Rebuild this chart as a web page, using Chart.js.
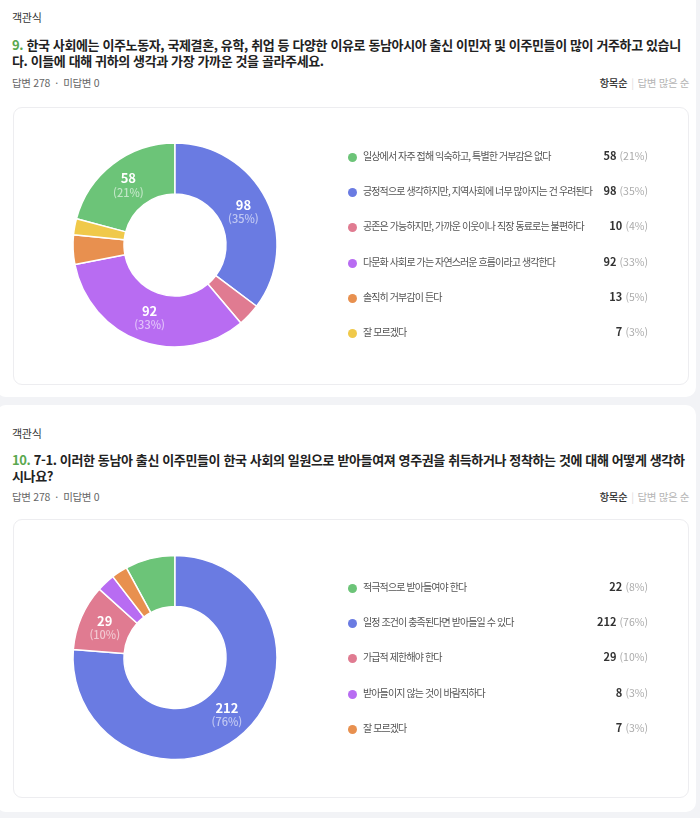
<!DOCTYPE html>
<html lang="ko">
<head>
<meta charset="utf-8">
<script src="https://cdn.jsdelivr.net/npm/chart.js@4.4.1/dist/chart.umd.min.js"></script>
<style>
  html, body { margin:0; padding:0; }
  body { width:700px; height:818px; background:#f2f3f6; position:relative; overflow:hidden;
         font-family:"Noto Sans CJK KR","Noto Sans",sans-serif; color:#333; }
  .card { position:absolute; left:-4px; width:700px; background:#fff; border-radius:10px; }
  .abs { position:absolute; white-space:nowrap; }
  .kind { font-size:11px; color:#333; letter-spacing:-0.3px; }
  .title { font-size:13px; font-weight:700; color:#222; letter-spacing:-0.38px; line-height:16px; }
  .title .num { color:#5aa84f; }
  .meta { font-size:10.5px; color:#666; letter-spacing:-0.3px; }
  .sort { font-size:10.5px; letter-spacing:-0.4px; right:11px; }
  .sort b { color:#333; font-weight:500; }
  .sort .sep { color:#ddd; margin:0 4px; }
  .sort .off { color:#b5b5b5; }
  .box { position:absolute; left:13px; width:674px; border:1px solid #ededf0; border-radius:9px; background:#fff; }
  .chartwrap { position:absolute; }
  .leg { position:absolute; left:0; width:700px; height:14px; }
  .dot { position:absolute; left:348px; top:3px; width:9px; height:9px; border-radius:50%; }
  .ltxt { position:absolute; left:363px; top:-2px; font-size:10px; color:#555; letter-spacing:-0.9px; white-space:nowrap; }
  .lval { position:absolute; right:52px; top:-3px; font-size:11px; white-space:nowrap; color:#333; }
  .lval b { font-weight:700; }
  .lval span { color:#aaa; font-size:10.5px; }
</style>
</head>
<body>
<div class="card" style="top:-12px; height:409px;"></div>
<div class="card" style="top:405px; height:407px;"></div>

<div class="abs kind" style="left:12px; top:9px;">객관식</div>
<div class="abs title" style="left:12px; top:37px;"><span class="num">9.</span> 한국 사회에는 이주노동자, 국제결혼, 유학, 취업 등 다양한 이유로 동남아시아 출신 이민자 및 이주민들이 많이 거주하고 있습니<br>다. 이들에 대해 귀하의 생각과 가장 가까운 것을 골라주세요.</div>
<div class="abs meta" style="left:12px; top:75px;">답변 278 &nbsp;·&nbsp; 미답변 0</div>
<div class="abs sort" style="top:75px;"><b>항목순</b><span class="sep">|</span><span class="off">답변 많은 순</span></div>
<div class="box" style="top:107px; height:276px;"></div>
<div class="chartwrap" style="left:13px; top:107px; width:324px; height:276px;"><canvas id="c1"></canvas></div>
<div id="leg1"></div>

<div class="abs kind" style="left:12px; top:425px;">객관식</div>
<div class="abs title" style="left:12px; top:452px;"><span class="num">10.</span> 7-1. 이러한 동남아 출신 이주민들이 한국 사회의 일원으로 받아들여져 영주권을 취득하거나 정착하는 것에 대해 어떻게 생각하<br>시나요?</div>
<div class="abs meta" style="left:12px; top:489px;">답변 278 &nbsp;·&nbsp; 미답변 0</div>
<div class="abs sort" style="top:489px;"><b>항목순</b><span class="sep">|</span><span class="off">답변 많은 순</span></div>
<div class="box" style="top:519px; height:277px;"></div>
<div class="chartwrap" style="left:13px; top:519px; width:324px; height:277px;"><canvas id="c2"></canvas></div>
<div id="leg2"></div>

<script>
// ---- Data ----
const q1Labels = ["일상에서 자주 접해 익숙하고, 특별한 거부감은 없다", "긍정적으로 생각하지만, 지역사회에 너무 많아지는 건 우려된다", "공존은 가능하지만, 가까운 이웃이나 직장 동료로는 불편하다", "다문화 사회로 가는 자연스러운 흐름이라고 생각한다", "솔직히 거부감이 든다", "잘 모르겠다"];
const q1Values = [58, 98, 10, 92, 13, 7];
const q1Pcts = [21, 35, 4, 33, 5, 3];
const q1Colors = ["#6cc478", "#6a7be2", "#e07b91", "#b86cf2", "#e8904f", "#f0c94a"];

const q2Labels = ["적극적으로 받아들여야 한다", "일정 조건이 충족된다면 받아들일 수 있다", "가급적 제한해야 한다", "받아들이지 않는 것이 바람직하다", "잘 모르겠다"];
const q2Values = [22, 212, 29, 8, 7];
const q2Pcts = [8, 76, 10, 3, 3];
const q2Colors = ["#6cc478", "#6a7be2", "#e07b91", "#b86cf2", "#e8904f"];

const labelPlugin = {
  id: 'arcLabels',
  afterDatasetsDraw(chart) {
    const ctx = chart.ctx;
    const ds = chart.data.datasets[0];
    const total = ds.data.reduce((a, b) => a + b, 0);
    const meta = chart.getDatasetMeta(0);
    meta.data.forEach((arc, i) => {
      if (ds.data[i] / total < 0.095) return;
      const p = arc.tooltipPosition();
      ctx.save();
      ctx.textAlign = 'center';
      ctx.textBaseline = 'middle';
      ctx.fillStyle = '#ffffff';
      ctx.font = '700 13px "Noto Sans CJK KR", sans-serif';
      ctx.fillText(String(ds.data[i]), p.x, p.y - 6);
      ctx.fillStyle = 'rgba(255,255,255,0.58)';
      ctx.font = '500 11px "Noto Sans CJK KR", sans-serif';
      ctx.fillText('(' + chart.options.plugins.arcLabels.pcts[i] + '%)', p.x, p.y + 8);
      ctx.restore();
    });
  }
};

function makeChart(id, labels, values, colors, pcts) {
  const total = values.reduce((a, b) => a + b, 0);
  return new Chart(document.getElementById(id), {
    type: 'doughnut',
    data: { labels: labels, datasets: [{ data: values, backgroundColor: colors, borderColor: '#ffffff', borderWidth: 1.5 }] },
    options: {
      responsive: true,
      maintainAspectRatio: false,
      animation: false,
      radius: 102,
      cutout: '50%',
      rotation: -values[0] / total * 360,
      layout: { padding: 0 },
      plugins: { legend: { display: false }, tooltip: { enabled: false }, arcLabels: { pcts: pcts } }
    },
    plugins: [labelPlugin]
  });
}

function makeLegend(id, labels, values, colors, pcts, top0, step) {
  const el = document.getElementById(id);
  labels.forEach((lab, i) => {
    const row = document.createElement('div');
    row.className = 'leg';
    row.style.top = (top0 + i * step - 7) + 'px';
    row.innerHTML = '<div class="dot" style="background:' + colors[i] + '"></div>' +
      '<div class="ltxt">' + lab + '</div>' +
      '<div class="lval"><b>' + values[i] + '</b> <span>(' + pcts[i] + '%)</span></div>';
    el.appendChild(row);
  });
}

makeChart('c1', q1Labels, q1Values, q1Colors, q1Pcts);
makeChart('c2', q2Labels, q2Values, q2Colors, q2Pcts);
makeLegend('leg1', q1Labels, q1Values, q1Colors, q1Pcts, 157, 35.2);
makeLegend('leg2', q2Labels, q2Values, q2Colors, q2Pcts, 588, 35.2);
</script>
</body>
</html>
